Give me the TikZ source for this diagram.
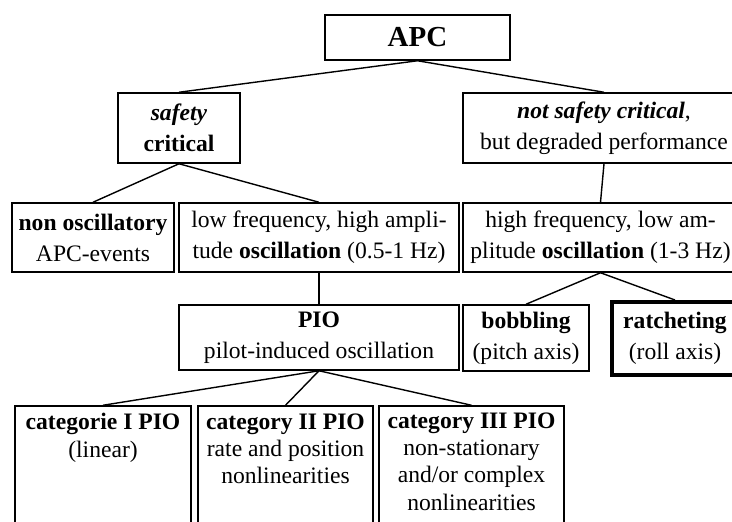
\documentclass[tikz,border=0pt]{standalone}
\usepackage{fontspec}
\setmainfont{Liberation Serif}
\begin{document}
\begin{tikzpicture}[x=0.5pt,y=-0.5pt,
  box/.style={draw, line width=0.75pt, inner sep=0pt, align=center, font=\fontsize{11.8}{15.5}\selectfont},
  thickbox/.style={box, line width=2pt},
  txt/.style={inner sep=0pt, align=center, anchor=north, font=\fontsize{11.8}{13.7}\selectfont},
  lnk/.style={line width=0.7pt}]
\useasboundingbox (0,0) rectangle (732,521);
\clip (0,0) rectangle (732,521);
% boxes
\node[box, minimum width=92.5pt, minimum height=22.5pt, font=\fontsize{14.5}{17}\selectfont\bfseries] (apc) at (417.5,37.5) {APC};
\node[box, minimum width=61pt, minimum height=35pt] (sc) at (179,128) {\textbf{\textit{safety}}\\\textbf{critical}};
\node[box, minimum width=141pt, minimum height=35pt] (nsc) at (604,128) {\textbf{\textit{not safety critical}},\\but degraded performance};
\node[box, minimum width=81pt, minimum height=34.5pt] (no) at (93,237.5) {\textbf{non oscillatory}\\APC-events};
\node[box, minimum width=140pt, minimum height=34.5pt] (lf) at (319,237.5) {low frequency, high ampli-\\tude \textbf{oscillation} (0.5-1 Hz)};
\node[box, minimum width=137.5pt, minimum height=34.5pt] (hf) at (600.5,237.5) {high frequency, low am-\\plitude \textbf{oscillation} (1-3 Hz)};
\node[box, minimum width=140pt, minimum height=32.5pt] (pio) at (319,337.5) {\textbf{PIO}\\pilot-induced oscillation};
\node[box, minimum width=63pt, minimum height=33pt] (bob) at (526,338) {\textbf{bobbling}\\(pitch axis)};
\node[thickbox, minimum width=63pt, minimum height=36.5pt] (rat) at (675,338.5) {\textbf{ratcheting}\\(roll axis)};
\node[box, minimum width=88pt, minimum height=67pt] (c1) at (103,473) {};
\node[box, minimum width=87.5pt, minimum height=67pt] (c2) at (285.5,473) {};
\node[box, minimum width=92.5pt, minimum height=67pt] (c3) at (471.5,473) {};
\node[txt] (t1) at (103,413) {\textbf{categorie I PIO}\\(linear)};
\node[txt] (t2) at (285.5,413) {\textbf{category II PIO}\\rate and position\\nonlinearities};
\node[txt] (t3) at (471.5,412) {\textbf{category III PIO}\\non-stationary\\and/or complex\\nonlinearities};
% connectors
\draw[lnk] (apc.south) -- (sc.north);
\draw[lnk] (apc.south) -- (nsc.north);
\draw[lnk] (sc.south) -- (no.north);
\draw[lnk] (sc.south) -- (lf.north);
\draw[lnk] (nsc.south) -- (hf.north);
\draw[lnk] (lf.south) -- (pio.north);
\draw[lnk] (hf.south) -- (bob.north);
\draw[lnk] (hf.south) -- (rat.north);
\draw[lnk] (pio.south) -- (c1.north);
\draw[lnk] (pio.south) -- (c2.north);
\draw[lnk] (pio.south) -- (c3.north);
\end{tikzpicture}
\end{document}
